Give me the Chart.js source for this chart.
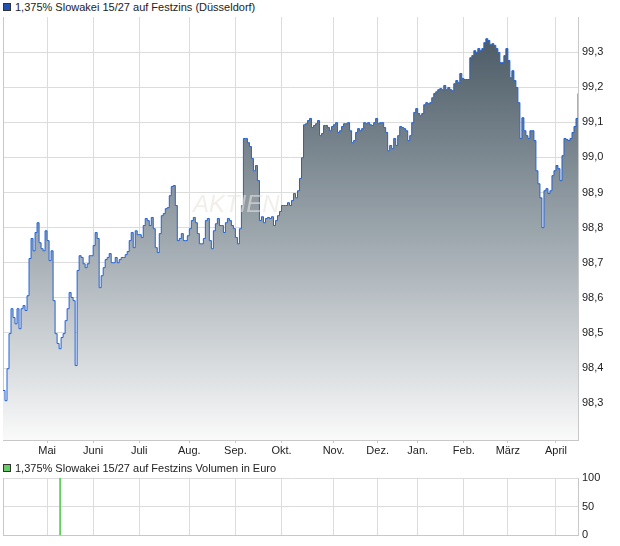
<!DOCTYPE html>
<html>
<head>
<meta charset="utf-8">
<script src="https://cdn.jsdelivr.net/npm/chart.js@4/dist/chart.umd.min.js"></script>
<style>
body { margin: 0; background: #fff; width: 620px; height: 546px; overflow: hidden; position: relative; font-family: "Liberation Sans", Arial, sans-serif; }
.box { position: absolute; left: 3px; width: 6px; height: 6px; border: 1px solid #333; }
.label { position: absolute; left: 15px; font-size: 11px; line-height: 13px; color: #222; white-space: nowrap; }
canvas { position: absolute; left: 0; }
</style>
</head>
<body>
<div class="box" style="top:3px;background:#1f52b4"></div>
<div class="label" style="top:1px">1,375% Slowakei 15/27 auf Festzins (Düsseldorf)</div>
<canvas id="priceChart" width="620" height="460" style="top:0"></canvas>
<canvas id="volumeChart" width="620" height="86" style="top:460px"></canvas>
<div class="box" style="top:464px;background:#66cc66"></div>
<div class="label" style="top:462px">1,375% Slowakei 15/27 auf Festzins Volumen in Euro</div>
<script>
// daily closing prices (one value per trading day, oldest first)
var prices = [
  98.336, 98.307, 98.398, 98.498, 98.569, 98.544, 98.526, 98.569, 98.512, 98.569,
  98.578, 98.564, 98.606, 98.712, 98.769, 98.734, 98.786, 98.814, 98.757, 98.740,
  98.734, 98.791, 98.763, 98.706, 98.734, 98.592, 98.498, 98.470, 98.455, 98.487,
  98.498, 98.535, 98.569, 98.615, 98.601, 98.592, 98.407, 98.678, 98.720, 98.715,
  98.697, 98.686, 98.697, 98.720, 98.720, 98.749, 98.786, 98.769, 98.629, 98.663,
  98.686, 98.709, 98.715, 98.726, 98.700, 98.700, 98.715, 98.700, 98.709, 98.715,
  98.715, 98.723, 98.732, 98.763, 98.786, 98.743, 98.791, 98.780, 98.780, 98.772,
  98.806, 98.826, 98.820, 98.806, 98.829, 98.797, 98.743, 98.729, 98.783, 98.834,
  98.840, 98.854, 98.857, 98.891, 98.917, 98.920, 98.863, 98.763, 98.769, 98.783,
  98.763, 98.763, 98.777, 98.797, 98.820, 98.829, 98.814, 98.783, 98.754, 98.754,
  98.769, 98.820, 98.826, 98.763, 98.740, 98.791, 98.811, 98.826, 98.806, 98.806,
  98.786, 98.814, 98.826, 98.820, 98.806, 98.797, 98.772, 98.754, 98.797, 98.863,
  99.054, 99.054, 99.042, 99.031, 98.997, 98.962, 98.977, 98.934, 98.820, 98.831,
  98.814, 98.826, 98.829, 98.826, 98.831, 98.806, 98.820, 98.834, 98.846, 98.863,
  98.863, 98.863, 98.871, 98.863, 98.877, 98.897, 98.885, 98.905, 98.940, 98.999,
  99.093, 99.096, 99.105, 99.111, 99.085, 99.091, 99.096, 99.105, 99.062, 99.068,
  99.091, 99.091, 99.085, 99.076, 99.088, 99.093, 99.099, 99.071, 99.076, 99.088,
  99.096, 99.096, 99.099, 99.076, 99.042, 99.048, 99.071, 99.082, 99.076, 99.082,
  99.099, 99.096, 99.099, 99.093, 99.091, 99.099, 99.111, 99.096, 99.099, 99.099,
  99.085, 99.071, 99.019, 99.034, 99.025, 99.054, 99.034, 99.062, 99.088, 99.085,
  99.082, 99.076, 99.048, 99.062, 99.099, 99.128, 99.139, 99.125, 99.119, 99.125,
  99.150, 99.156, 99.153, 99.156, 99.170, 99.182, 99.187, 99.193, 99.196, 99.193,
  99.205, 99.193, 99.199, 99.193, 99.190, 99.210, 99.219, 99.213, 99.239, 99.225,
  99.222, 99.222, 99.222, 99.284, 99.290, 99.304, 99.299, 99.310, 99.304, 99.310,
  99.327, 99.338, 99.333, 99.321, 99.324, 99.319, 99.310, 99.299, 99.270, 99.270,
  99.290, 99.310, 99.276, 99.227, 99.247, 99.219, 99.199, 99.156, 99.054, 99.113,
  99.076, 99.062, 99.054, 99.076, 99.076, 99.048, 98.962, 98.925, 98.885, 98.800,
  98.905, 98.911, 98.897, 98.905, 98.948, 98.962, 98.977, 98.968, 98.934, 99.005,
  99.054, 99.051, 99.048, 99.054, 99.071, 99.088, 99.111, 99.182
];
// first trading day of each month (index into prices)
var monthStart = [22, 45, 68, 93, 116, 139, 165, 187, 207, 230, 252, 276];
var monthNames = ["Mai", "Juni", "Juli", "Aug.", "Sep.", "Okt.", "Nov.", "Dez.", "Jan.", "Feb.", "März", "April"];
var priceTicks = [98.3, 98.4, 98.5, 98.6, 98.7, 98.8, 98.9, 99.0, 99.1, 99.2, 99.3];
var priceMin = 98.195, priceMax = 99.4;
// traded volume in euro
var volumeDay = [28.5];
var volumeEuro = [100];
var volumeTicks = [0, 50, 100];

var gridColor = "#dcdcdc";
var borderColor = "#c8c8c8";
var tickFont = { family: "'Liberation Sans', Arial, sans-serif", size: 11 };

function monthTicks(scale) {
    scale.ticks = monthStart.map((v) => ({ value: v }));
}

var leftFrame = {
    id: "leftFrame",
    beforeDatasetsDraw(chart) {
        var a = chart.chartArea, c = chart.ctx;
        c.save();
        c.strokeStyle = borderColor;
        c.lineWidth = 1;
        c.beginPath();
        c.moveTo(a.left + 0.5, a.top);
        c.lineTo(a.left + 0.5, a.bottom);
        c.stroke();
        c.restore();
    }
};

var watermark = {
    id: "watermark",
    afterDatasetsDraw(chart) {
        var a = chart.chartArea, c = chart.ctx;
        c.save();
        c.font = "italic 24px 'Liberation Sans', Arial, sans-serif";
        c.fillStyle = "rgba(234,229,220,0.6)";
        c.textBaseline = "alphabetic";
        c.fillText("AKTIEN", a.left + 190, a.top + 195);
        c.restore();
    }
};

var points = prices.map((p, i) => ({ x: i, y: p }));

new Chart(document.getElementById("priceChart"), {
    type: "line",
    data: {
        datasets: [{
            data: points,
            stepped: true,
            borderColor: "#2262d4",
            borderWidth: 1,
            pointRadius: 0,
            fill: "start",
            backgroundColor: function (ctx) {
                var a = ctx.chart.chartArea;
                if (!a) return "#999";
                var g = ctx.chart.ctx.createLinearGradient(0, a.top, 0, a.bottom);
                g.addColorStop(0, "#43535e");
                g.addColorStop(0.5, "#9aa4ab");
                g.addColorStop(1, "#fafafa");
                return g;
            }
        }]
    },
    options: {
        responsive: false,
        animation: false,
        devicePixelRatio: 1,
        layout: { padding: { top: 17, left: 3, right: 0, bottom: 0 } },
        plugins: { legend: { display: false }, tooltip: { enabled: false } },
        scales: {
            x: {
                type: "linear",
                min: 0,
                max: prices.length - 1,
                afterBuildTicks: monthTicks,
                afterFit: (s) => { s.height = 20; },
                ticks: {
                    autoSkip: false, maxRotation: 0, padding: 1, color: "#222", font: tickFont,
                    callback: (v, i) => monthNames[i]
                },
                grid: { color: gridColor, tickColor: borderColor, tickLength: 3 },
                border: { color: borderColor }
            },
            y: {
                position: "right",
                min: priceMin,
                max: priceMax,
                afterBuildTicks: (s) => { s.ticks = priceTicks.map((v) => ({ value: v })); },
                afterFit: (s) => { s.width = 42; },
                ticks: {
                    padding: 4, color: "#222", font: tickFont,
                    callback: (v) => v.toFixed(1).replace(".", ",")
                },
                grid: { color: gridColor, drawTicks: false },
                border: { color: borderColor }
            }
        }
    },
    plugins: [leftFrame, watermark]
});

new Chart(document.getElementById("volumeChart"), {
    type: "bar",
    data: {
        datasets: [{
            data: volumeDay.map((d, i) => ({ x: d, y: volumeEuro[i] })),
            backgroundColor: "#55cc55",
            barThickness: 1
        }]
    },
    options: {
        responsive: false,
        animation: false,
        devicePixelRatio: 1,
        layout: { padding: { top: 18, left: 3, right: 0, bottom: 0 } },
        plugins: { legend: { display: false }, tooltip: { enabled: false } },
        scales: {
            x: {
                type: "linear",
                offset: false,
                min: 0,
                max: prices.length - 1,
                afterBuildTicks: monthTicks,
                afterFit: (s) => { s.height = 8; },
                ticks: { display: false },
                grid: { color: gridColor, drawTicks: false, offset: false },
                border: { color: borderColor }
            },
            y: {
                position: "right",
                min: 0,
                max: 100,
                afterBuildTicks: (s) => { s.ticks = volumeTicks.map((v) => ({ value: v })); },
                afterFit: (s) => { s.width = 42; },
                ticks: { padding: 4, color: "#222", font: tickFont },
                grid: { color: gridColor, drawTicks: false },
                border: { color: borderColor }
            }
        }
    },
    plugins: [leftFrame]
});
</script>
</body>
</html>
